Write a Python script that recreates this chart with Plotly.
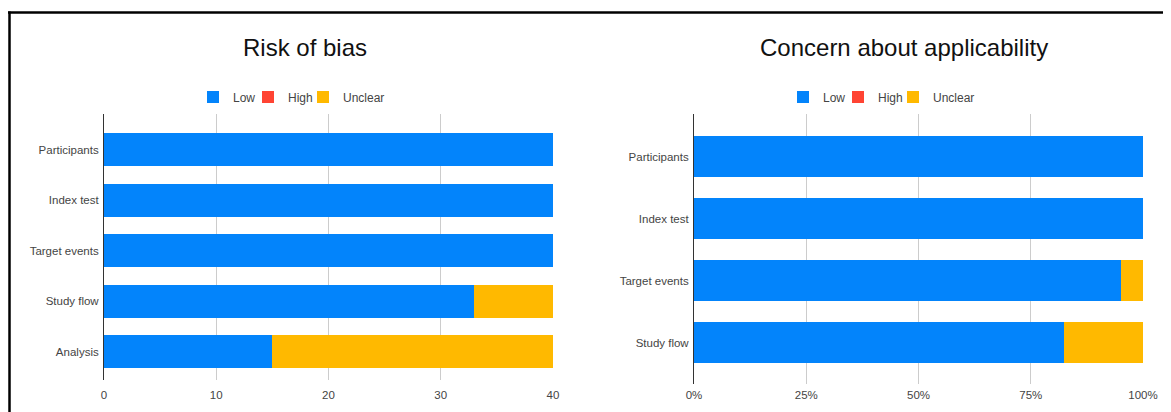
import plotly.graph_objects as go

# Page has an 8px body margin, so the figure is sized to the remaining area
OFF = 8
W, H = 1171 - OFF, 412 - OFF

# ---- data ----
rob_categories = ["Participants", "Index test", "Target events", "Study flow", "Analysis"]
rob_low = [40, 40, 40, 33, 15]
rob_high = [0, 0, 0, 0, 0]
rob_unclear = [0, 0, 0, 7, 25]

app_categories = ["Participants", "Index test", "Target events", "Study flow"]
app_low = [100, 100, 95, 82.5]
app_high = [0, 0, 0, 0]
app_unclear = [0, 0, 5, 17.5]

rob_ticks = [0, 10, 20, 30, 40]
app_ticks = [0, 25, 50, 75, 100]
app_ticktext = [f"{t}%" for t in app_ticks]

series_names = ["Low", "High", "Unclear"]
colors = ["#0384FB", "#FF4433", "#FFB900"]
legend_widths = [10, 10, 50]

FONT = "Arial, Liberation Sans, sans-serif"

fig = go.Figure()

for name, vals, col, lw in zip(series_names, [rob_low, rob_high, rob_unclear], colors, legend_widths):
    fig.add_trace(go.Bar(
        y=rob_categories, x=vals, orientation="h", name=name,
        marker=dict(color=col, line=dict(width=0)),
        xaxis="x", yaxis="y", legend="legend", width=0.645,
        legendwidth=lw,
    ))

for name, vals, col, lw in zip(series_names, [app_low, app_high, app_unclear], colors, legend_widths):
    fig.add_trace(go.Bar(
        y=app_categories, x=vals, orientation="h", name=name,
        marker=dict(color=col, line=dict(width=0)),
        xaxis="x2", yaxis="y2", legend="legend2", width=0.66,
        legendwidth=lw,
    ))


def fx(p):
    return (p - OFF) / W


def fy(p):
    return 1 - (p - OFF) / H


font_tick = dict(family=FONT, size=11.5, color="#444444")
font_leg = dict(family=FONT, size=12, color="#444444")

fig.update_layout(
    template="none",
    width=W, height=H,
    margin=dict(l=0, r=0, t=0, b=0, pad=0),
    paper_bgcolor="white", plot_bgcolor="white",
    barmode="stack",
    font=dict(family=FONT, color="#222222"),
    xaxis=dict(
        domain=[fx(104), fx(553)], anchor="y",
        range=[0, 40], tickvals=rob_ticks,
        showgrid=True, gridcolor="#CCCCCC", gridwidth=1,
        zeroline=False, showline=False, ticks="",
        tickfont=font_tick, ticklabelstandoff=6,
    ),
    yaxis=dict(
        domain=[fy(380), fy(114)], anchor="x",
        range=[4.56, -0.708], type="category",
        showgrid=False, zeroline=False,
        showline=True, linecolor="#333333", linewidth=1,
        ticks="", tickfont=font_tick, ticklabelstandoff=2,
    ),
    xaxis2=dict(
        domain=[fx(694), fx(1143)], anchor="y2",
        range=[0, 100], tickvals=app_ticks, ticktext=app_ticktext,
        showgrid=True, gridcolor="#CCCCCC", gridwidth=1,
        zeroline=False, showline=False, ticks="",
        tickfont=font_tick, ticklabelstandoff=2,
    ),
    yaxis2=dict(
        domain=[fy(384), fy(114)], anchor="x2",
        range=[3.669, -0.685], type="category",
        showgrid=False, zeroline=False,
        showline=True, linecolor="#333333", linewidth=1,
        ticks="", tickfont=font_tick, ticklabelstandoff=2,
    ),
    legend=dict(
        orientation="h", x=fx(213 - 20), xanchor="left",
        y=fy(97), yanchor="middle",
        font=font_leg, itemclick=False, traceorder="normal",
        itemwidth=30,
        bgcolor="rgba(0,0,0,0)", borderwidth=0,
    ),
    legend2=dict(
        orientation="h", x=fx(803 - 20), xanchor="left",
        y=fy(97), yanchor="middle",
        font=font_leg, itemclick=False, traceorder="normal",
        itemwidth=30,
        bgcolor="rgba(0,0,0,0)", borderwidth=0,
    ),
    showlegend=True,
    annotations=[
        dict(text="Risk of bias", x=fx(305), y=fy(48), xref="paper", yref="paper",
             xanchor="center", yanchor="middle", showarrow=False,
             font=dict(family=FONT, size=24, color="#111111")),
        dict(text="Concern about applicability", x=fx(904), y=fy(48), xref="paper", yref="paper",
             xanchor="center", yanchor="middle", showarrow=False,
             font=dict(family=FONT, size=24, color="#111111")),
    ],
    shapes=[
        dict(type="line", xref="paper", yref="paper", x0=fx(8), x1=1.0,
             y0=fy(12.5), y1=fy(12.5), line=dict(color="black", width=2.5)),
        dict(type="line", xref="paper", yref="paper", x0=fx(9.5), x1=fx(9.5),
             y0=fy(11.5), y1=0, line=dict(color="black", width=2.5)),
    ],
)

fig.write_html("out.html")
